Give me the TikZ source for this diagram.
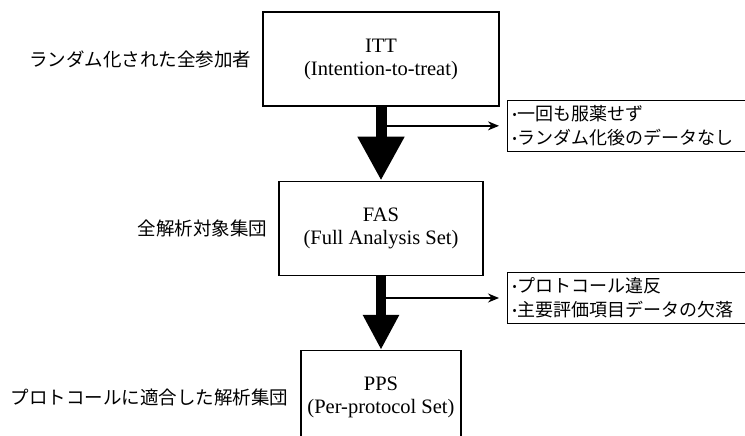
\documentclass[tikz,border=0pt]{standalone}
\usepackage{fontspec}
\setmainfont{Liberation Serif}
\newfontfamily\jp{Noto Sans CJK JP}
\usetikzlibrary{positioning,arrows.meta,calc}
\newcommand{\bul}{\raisebox{2.5pt}{\fontsize{12pt}{12pt}\selectfont\textbullet}\hspace{1pt}}
\tikzset{x=1pt,y=-1pt,node distance=74pt,
  set/.style={draw,line width=1.2pt,minimum height=94pt,align=center,font=\fontsize{20.5pt}{23pt}\selectfont},
  lbl/.style={inner sep=0pt,font=\jp\fontsize{18.5pt}{18.5pt}\selectfont},
  excl/.style={draw,line width=1pt,anchor=west,align=left,text width=240pt,minimum height=48pt,inner sep=5pt,font=\jp\fontsize{18pt}{24pt}\selectfont},
  big/.style={line width=11pt,-{Triangle[length=44pt,width=44pt]}},
  bigger/.style={line width=10pt,-{Triangle[length=35pt,width=34pt]}},
  drop/.style={line width=1.5pt,-{Stealth[length=11pt,width=9pt]},shorten >=8pt}}

\begin{document}
\begin{tikzpicture}
              \useasboundingbox (0,0) rectangle (745,436);
              \clip (0,0) rectangle (745,436);

              \node[set,minimum width=236pt] (itt) at (381,59) {ITT\\(Intention-to-treat)};
              \node[set,minimum width=204pt] (fas) [below=of itt] {FAS\\(Full Analysis Set)};
              \node[set,minimum width=160pt] (pps) [below=of fas] {PPS\\(Per-protocol Set)};

              \node[lbl] (l1) [left=11pt of itt] {ランダム化された全参加者};
              \node[lbl] (l2) [left=11pt of fas] {全解析対象集団};
              \node[lbl] (l3) [left=12pt of pps] {プロトコールに適合した解析集団};

              % excluded
              \coordinate (b1) at ($(itt.south)!0.26!(fas.north)$);
              \coordinate (b2) at ($(fas.south)!0.3!(pps.north)$);
              \node[excl] (ex1) [right=126pt of b1] {\bul 一回も服薬せず\\\bul ランダム化後のデータなし};
              \node[excl] (ex2) [right=126pt of b2] {\bul プロトコール違反\\\bul 主要評価項目データの欠落};

              \path
              (itt) edge [big] (fas)
              (fas) edge [bigger] (pps)
              (b1) edge [drop] (ex1)
              (b2) edge [drop] (ex2)
              ;
            \end{tikzpicture}
\end{document}
